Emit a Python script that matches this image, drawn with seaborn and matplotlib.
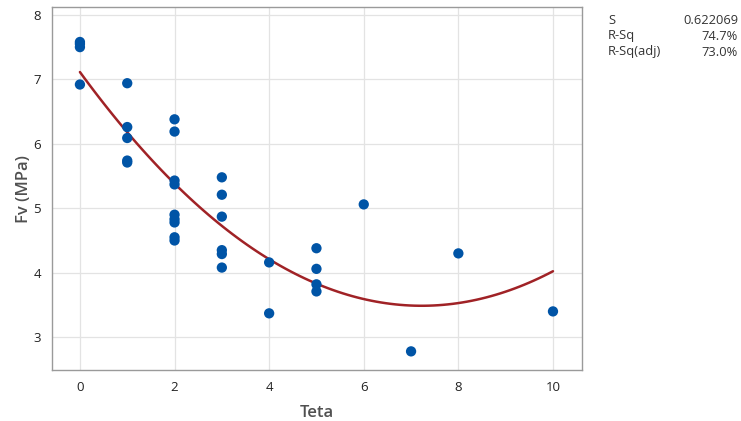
import numpy as np
import pandas as pd
import seaborn as sns
import matplotlib.pyplot as plt

# valori
teta = [0, 0, 0, 0,
        1, 1, 1, 1, 1,
        2, 2, 2, 2, 2, 2, 2, 2, 2,
        3, 3, 3, 3, 3, 3,
        4, 4,
        5, 5, 5, 5,
        6, 7, 8, 10]
fv = [7.58, 7.55, 7.50, 6.92,
      6.94, 6.26, 6.09, 5.74, 5.71,
      6.38, 6.19, 5.43, 5.37, 4.90, 4.83, 4.78, 4.55, 4.50,
      5.48, 5.21, 4.87, 4.35, 4.29, 4.08,
      4.16, 3.37,
      4.38, 4.06, 3.82, 3.71,
      5.06, 2.78, 4.30, 3.40]

stat_names = ["S", "R-Sq", "R-Sq(adj)"]
stat_values = ["0.622069", "74.7%", "73.0%"]

df = pd.DataFrame({"Teta": teta, "Fv": fv})

sns.set_style("white")
plt.rcParams['font.family'] = ['Open Sans', 'DejaVu Sans']

fig = plt.figure(figsize=(7.41, 4.21), dpi=100)
ax = fig.add_axes([0.0702, 0.121, 0.715, 0.862])

sns.regplot(data=df, x="Teta", y="Fv", order=2, ci=None, ax=ax,
            scatter_kws={"s": 55, "color": "#0054A6", "alpha": 1, "edgecolor": "none", "zorder": 3},
            line_kws={"color": "#A02226", "lw": 1.8, "zorder": 2})

ax.set_xlim(-0.59, 10.61)
ax.set_ylim(2.49, 8.12)
ax.set_xticks([0, 2, 4, 6, 8, 10])
ax.set_yticks([3, 4, 5, 6, 7, 8])
ax.grid(True, color="#E3E3E3", lw=0.9)
ax.set_axisbelow(True)
for sp in ax.spines.values():
    sp.set_color("#9A9A9A")
    sp.set_linewidth(1.0)
ax.tick_params(axis="both", direction="out", length=4, width=0.8, color="#9A9A9A",
               labelsize=9.5, labelcolor="#222222", pad=4)
ax.set_xlabel("Teta", fontsize=12, color="#505050", fontweight="semibold", labelpad=8)
ax.set_ylabel("Fv (MPa)", fontsize=12, color="#505050", fontweight="semibold", labelpad=1)

for i in range(len(stat_names)):
    yy = 1 - (20 + 16 * i) / 421
    fig.text(608 / 741, yy, stat_names[i], fontsize=9.3, color="#333333", va="center", ha="left")
    fig.text(738 / 741, yy, stat_values[i], fontsize=9.3, color="#333333", va="center", ha="right")

fig.savefig("out.png", dpi=100)
